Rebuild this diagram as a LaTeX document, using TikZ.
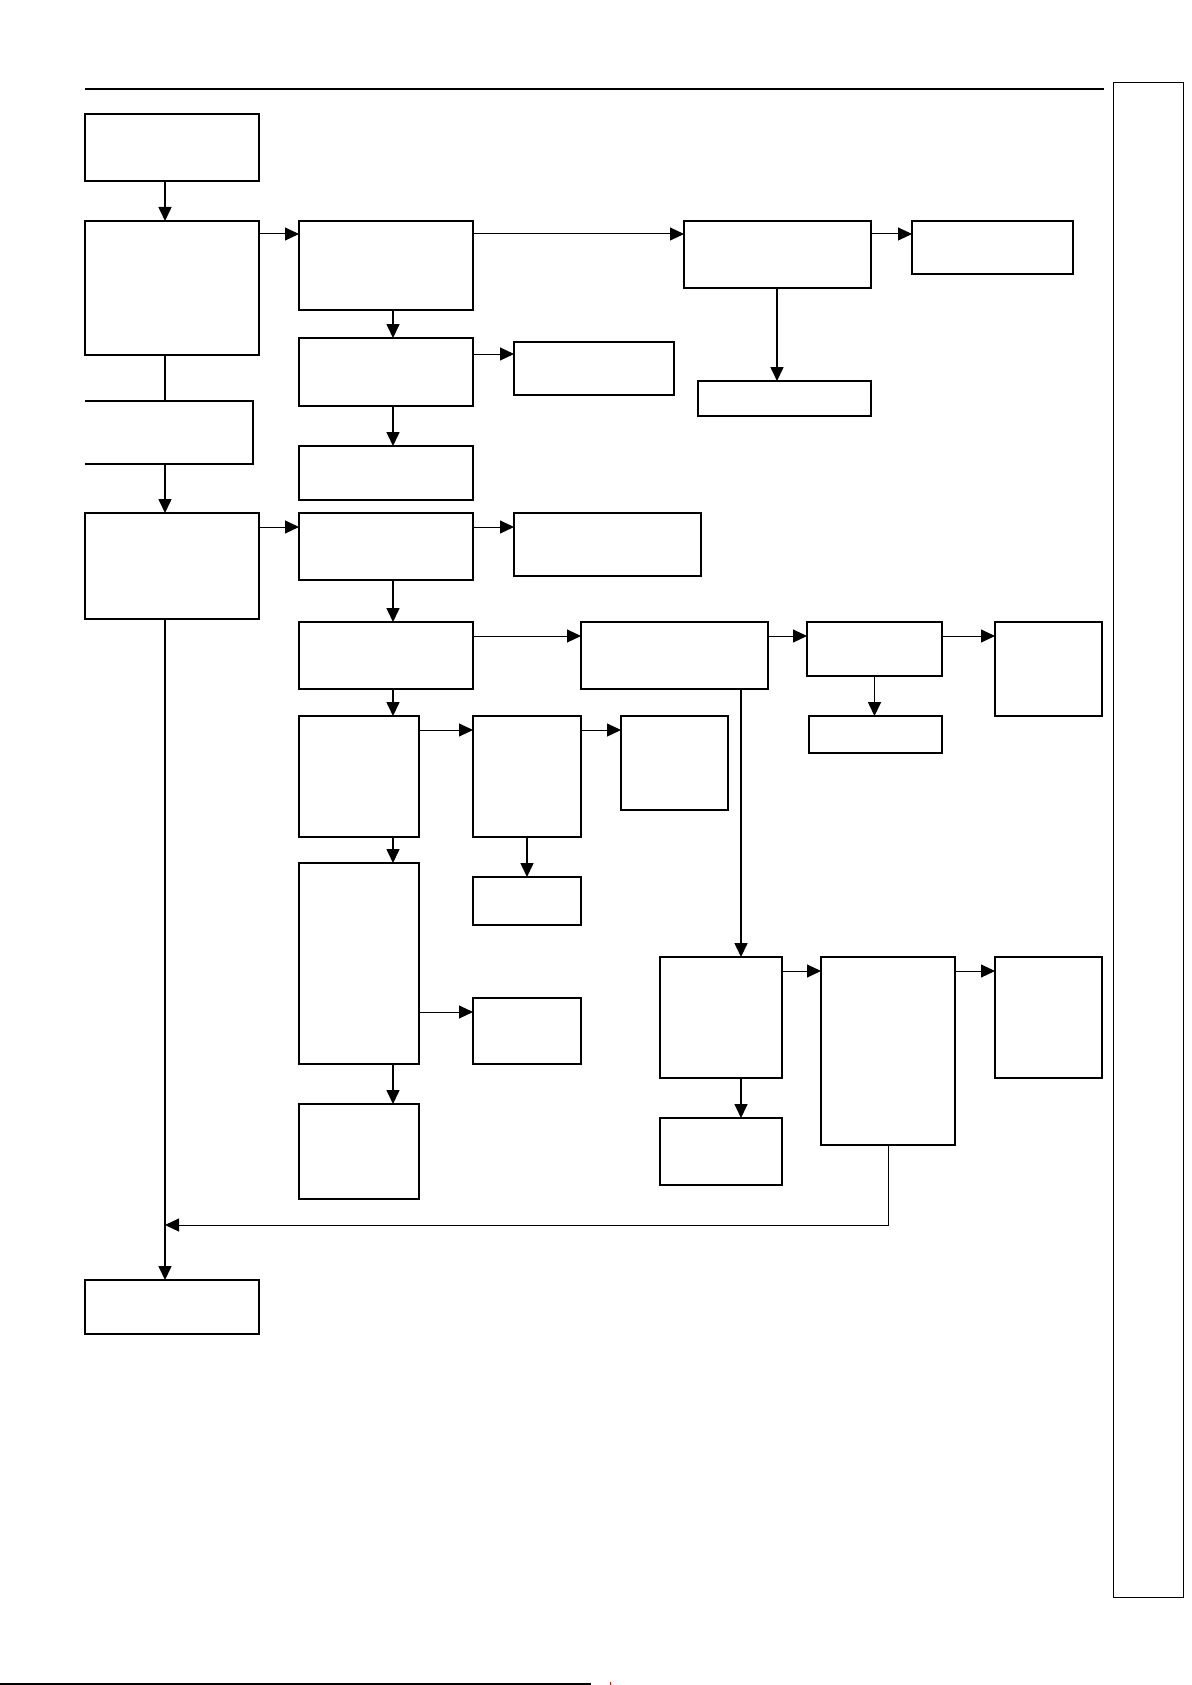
\documentclass[tikz,border=0pt]{standalone}
\usetikzlibrary{arrows.meta}
\begin{document}
\begin{tikzpicture}[x=1pt,y=-1pt,
  box/.style={draw=black,line width=1.2pt,fill=none,inner sep=0pt,outer sep=0pt,rectangle},
  thinbox/.style={draw=black,line width=0.9pt,inner sep=0pt,outer sep=0pt,rectangle},
  varrow/.style={line width=1.6pt,-{Triangle[length=14pt,width=13pt]}},
  harrow/.style={line width=1pt,-{Triangle[length=14pt,width=13pt]}},
  vline/.style={line width=1.6pt},
  rule/.style={line width=1.1pt}]
\useasboundingbox (0,0) rectangle (1191,1685);
\newcommand{\bx}[6][box]{\node[#1,minimum width={(#5-#3)*1pt},minimum height={(#6-#4)*1pt}] (#2) at ({(#3+#5)/2},{(#4+#6)/2}) {};}
% page rules
\draw[rule] (85,89) -- (1104,89);
\draw[line width=1.4pt] (0,1684) -- (591,1684);
\draw[red,line width=0.6pt] (610,1682) -- (610,1685);
\bx[thinbox]{tab}{1113}{82}{1183}{1597}
% column 1
\bx{B1}{85}{114}{259}{181}
\bx{B2}{85}{221}{259}{355}
\draw[box] (85,401) -- (253,401) -- (253,464) -- (85,464);
\coordinate (B3n) at (165,401);
\coordinate (B3s) at (165,464);
\bx{B4}{85}{513}{259}{619}
\bx{B5}{85}{1280}{259}{1334}
% column 2
\bx{C1}{299}{221}{473}{310}
\bx{C2}{299}{338}{473}{406}
\bx{C3}{299}{446}{473}{500}
\bx{C4}{299}{513}{473}{580}
\bx{C5}{299}{622}{473}{689}
\bx{C6}{299}{716}{419}{837}
\bx{C7}{299}{863}{419}{1064}
\bx{C8}{299}{1104}{419}{1199}
% column 3
\bx{D1}{514}{342}{674}{395}
\bx{D2}{514}{513}{701}{576}
\bx{D3}{473}{716}{581}{837}
\bx{D4}{473}{877}{581}{925}
\bx{D5}{473}{998}{581}{1064}
\bx{D6}{621}{716}{728}{810}
% top right
\bx{E1}{684}{221}{871}{288}
\bx{E2}{912}{221}{1073}{274}
\bx{E3}{698}{381}{871}{416}
% middle right
\bx{F1}{581}{622}{768}{689}
\bx{F2}{807}{622}{942}{676}
\bx{F3}{995}{622}{1102}{716}
\bx{F4}{809}{716}{942}{753}
% lower right
\bx{G1}{660}{957}{782}{1078}
\bx{G2}{660}{1118}{782}{1185}
\bx{G3}{821}{957}{955}{1145}
\bx{G4}{995}{957}{1102}{1078}
% helper coordinates
\coordinate (sp) at (165,0);
\coordinate (k2) at (393,0);
\coordinate (ke) at (777,0);
\coordinate (kf) at (741,0);
\coordinate (r1) at (0,234);
\coordinate (r2) at (0,354);
\coordinate (r3) at (0,527);
\coordinate (r4) at (0,636);
\coordinate (r5) at (0,730);
\coordinate (r6) at (0,1012);
\coordinate (r7) at (0,971);
\coordinate (fb) at (0,1225);
% spine
\draw[varrow] (sp |- B1.south) -- (sp |- B2.north);
\draw[vline] (sp |- B2.south) -- (B3n);
\draw[varrow] (B3s) -- (sp |- B4.north);
\draw[varrow] (sp |- B4.south) -- (sp |- B5.north);
\draw[harrow] (G3.south) -- (G3.south |- fb) -- (sp |- fb);
% top branch
\draw[harrow] (B2.east |- r1) -- (C1.west |- r1);
\draw[harrow] (C1.east |- r1) -- (E1.west |- r1);
\draw[harrow] (E1.east |- r1) -- (E2.west |- r1);
\draw[varrow] (ke |- E1.south) -- (ke |- E3.north);
\draw[varrow] (k2 |- C1.south) -- (k2 |- C2.north);
\draw[harrow] (C2.east |- r2) -- (D1.west |- r2);
\draw[varrow] (k2 |- C2.south) -- (k2 |- C3.north);
% middle branch
\draw[harrow] (B4.east |- r3) -- (C4.west |- r3);
\draw[harrow] (C4.east |- r3) -- (D2.west |- r3);
\draw[varrow] (k2 |- C4.south) -- (k2 |- C5.north);
\draw[harrow] (C5.east |- r4) -- (F1.west |- r4);
\draw[harrow] (F1.east |- r4) -- (F2.west |- r4);
\draw[harrow] (F2.east |- r4) -- (F3.west |- r4);
\draw[varrow] (F2.south) -- (F2.south |- F4.north);
\draw[varrow] (k2 |- C5.south) -- (k2 |- C6.north);
\draw[harrow] (C6.east |- r5) -- (D3.west |- r5);
\draw[harrow] (D3.east |- r5) -- (D6.west |- r5);
\draw[varrow] (D3.south) -- (D3.south |- D4.north);
\draw[varrow] (k2 |- C6.south) -- (k2 |- C7.north);
\draw[harrow] (C7.east |- r6) -- (D5.west |- r6);
\draw[varrow] (k2 |- C7.south) -- (k2 |- C8.north);
% lower right branch
\draw[varrow] (kf |- F1.south) -- (kf |- G1.north);
\draw[harrow] (G1.east |- r7) -- (G3.west |- r7);
\draw[harrow] (G3.east |- r7) -- (G4.west |- r7);
\draw[varrow] (kf |- G1.south) -- (kf |- G2.north);
\end{tikzpicture}
\end{document}
